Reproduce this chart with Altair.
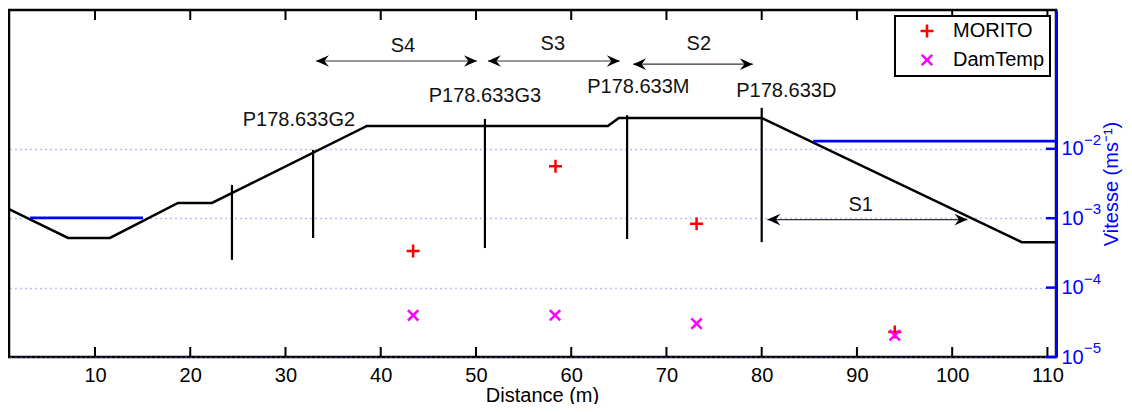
import altair as alt
import pandas as pd

# ---------------- data ----------------
# dam cross-section profile (distance m, elevation in arbitrary units 0-100)
prof_x = [0.97, 7.17, 11.57, 18.71, 22.28, 38.55, 63.85, 65.0, 80.0, 107.3, 110.9]
prof_z = [42.65, 34.3, 34.3, 44.4, 44.4, 66.6, 66.6, 68.9, 68.9, 33.1, 33.1]

# piezometer boreholes
pz_x = [24.38, 32.9, 50.94, 65.87, 80.0]
pz_top = [49.6, 59.7, 68.6, 69.7, 71.8]
pz_bot = [28.0, 34.3, 31.4, 34.0, 33.1]

# piezometer labels
pl_name = ["P178.633G2", "P178.633G3", "P178.633M", "P178.633D"]
pl_x = [31.41, 50.94, 67.05, 82.58]
pl_z = [68.3, 75.2, 77.8, 76.8]

# sections (double arrows)
sec_name = ["S1", "S2", "S3", "S4"]
sec_start = [80.6, 66.5, 51.25, 33.2]
sec_end = [101.6, 79.07, 65.1, 50.1]
sec_z = [39.6, 84.4, 85.3, 85.3]
sec_lx = [90.4, 73.4, 58.07, 42.33]
sec_lz = [43.7, 90.3, 90.3, 89.5]

# water levels
w_x1 = [3.18, 85.4]
w_x2 = [15.04, 110.9]
w_z = [40.1, 62.2]

# velocities
series_names = ["MORITO", "DamTemp"]
morito_x = [43.4, 58.35, 73.16, 93.97]
morito_v = [3.36e-4, 5.62e-3, 8.3e-4, 2.3e-5]
damtemp_x = [43.4, 58.3, 73.16, 93.97]
damtemp_v = [3.99e-5, 4.0e-5, 3.03e-5, 2.06e-5]

# ticks
x_ticks = [10, 20, 30, 40, 50, 60, 70, 80, 90, 100, 110]
y_ticks = [1e-5, 1e-4, 1e-3, 1e-2]
y_exp = ["\u22125", "\u22124", "\u22123", "\u22122"]

# ---------------- chart ----------------
W, H = 1047, 347
FONT = "Liberation Sans"
BLUE = "#0000ff"

xscale = alt.Scale(domain=[0.97, 110.9], nice=False, zero=False)
xaxis = alt.Axis(values=x_ticks, title="Distance (m)", labelFontSize=20, titleFontSize=20,
                 titleFontWeight="normal", ticks=False, domain=False, grid=False,
                 labelPadding=8, titlePadding=0, labelColor="black", titleColor="black",
                 labelFont=FONT, titleFont=FONT, titleX=533)


def X(f):
    return alt.X(f"{f}:Q", scale=xscale, axis=xaxis)


zscale = alt.Scale(domain=[0, 100], nice=False, zero=False)


def Z(f):
    return alt.Y(f"{f}:Q", scale=zscale, axis=None)


logscale = alt.Scale(type="log", domain=[1e-5, 1], nice=False)
yaxis = alt.Axis(orient="right", values=y_ticks, labelExpr="'10'", labelColor=BLUE,
                 labelFontSize=20, labelFont=FONT, ticks=False, domainColor=BLUE, domainWidth=3,
                 grid=True, gridColor="#7878ff", gridDash=[1, 4], gridWidth=1.3,
                 title="Vitesse (ms\u207b\u00b9)", titleColor=BLUE, titleFontSize=20,
                 titleFont=FONT, titleFontWeight="normal", titleAngle=270,
                 labelPadding=5, titlePadding=38)


def V(f):
    return alt.Y(f"{f}:Q", scale=logscale, axis=yaxis)


df_prof = pd.DataFrame({"x": prof_x, "z": prof_z, "i": list(range(len(prof_x)))})
df_pz = pd.DataFrame({"x": pz_x, "top": pz_top, "bot": pz_bot})
df_pl = pd.DataFrame({"name": pl_name, "x": pl_x, "z": pl_z})
df_sec = pd.DataFrame({"name": sec_name, "xs": sec_start, "xe": sec_end, "z": sec_z,
                       "lx": sec_lx, "lz": sec_lz})
df_w = pd.DataFrame({"x1": w_x1, "x2": w_x2, "z": w_z})
df_xt = pd.DataFrame({"x": x_ticks})

LEFT_HEAD = "M0,0L1,-0.45L0.65,0L1,0.45Z"
RIGHT_HEAD = "M0,0L-1,-0.45L-0.65,0L-1,0.45Z"

profile = alt.Chart(df_prof).mark_line(color="black", strokeWidth=2.5).encode(
    x=X("x"), y=Z("z"), order="i:Q")
water = alt.Chart(df_w).mark_rule(color=BLUE, strokeWidth=2.8).encode(
    x=X("x1"), x2="x2", y=Z("z"))
pz = alt.Chart(df_pz).mark_rule(color="black", strokeWidth=2.2).encode(
    x=X("x"), y=Z("bot"), y2="top")
pl = alt.Chart(df_pl).mark_text(font=FONT, fontSize=20, color="#111111", baseline="middle").encode(
    x=X("x"), y=Z("z"), text="name:N")
shaft = alt.Chart(df_sec).mark_rule(color="#333333", strokeWidth=1.2).encode(
    x=X("xs"), x2="xe", y=Z("z"))
lhead = alt.Chart(df_sec).mark_point(shape=LEFT_HEAD, filled=True, size=676, color="black",
                                     opacity=1).encode(x=X("xs"), y=Z("z"))
rhead = alt.Chart(df_sec).mark_point(shape=RIGHT_HEAD, filled=True, size=676, color="black",
                                     opacity=1).encode(x=X("xe"), y=Z("z"))
slab = alt.Chart(df_sec).mark_text(font=FONT, fontSize=20, color="#111111", baseline="middle").encode(
    x=X("lx"), y=Z("lz"), text="name:N")
top_ticks = alt.Chart(df_xt).mark_rule(color="black", strokeWidth=2).encode(
    x=X("x"), y=alt.value(0), y2=alt.value(10))
bot_ticks = alt.Chart(df_xt).mark_rule(color="black", strokeWidth=2).encode(
    x=X("x"), y=alt.value(H - 10), y2=alt.value(H))

prof_group = alt.layer(profile, water, pz, pl, shaft, lhead, rhead, slab, top_ticks, bot_ticks)

# velocity group
rows = []
for s, xs, vs in [("MORITO", morito_x, morito_v), ("DamTemp", damtemp_x, damtemp_v)]:
    for a, b in zip(xs, vs):
        rows.append({"series": s, "x": a, "v": b})
df_v = pd.DataFrame(rows)
df_yt = pd.DataFrame({"v": y_ticks, "exp": y_exp})

PLUS = "M-1,0L1,0M0,-1L0,1"
CROSS = "M-0.8,-0.8L0.8,0.8M-0.8,0.8L0.8,-0.8"

leg = alt.Legend(title=None, orient="top-right", offset=6, padding=5, labelFontSize=20,
                 labelFont=FONT, symbolStrokeWidth=2.5, symbolSize=169, symbolOffset=17,
                 labelOffset=16, rowPadding=6, strokeColor="black", fillColor="white")

pts = alt.Chart(df_v).mark_point(filled=False, strokeWidth=2.5, size=169, opacity=1).encode(
    x=X("x"), y=V("v"),
    color=alt.Color("series:N", scale=alt.Scale(domain=series_names, range=["#ff0000", "#ff00ff"]),
                    legend=leg),
    shape=alt.Shape("series:N", scale=alt.Scale(domain=series_names, range=[PLUS, CROSS]),
                    legend=leg),
)
rticks = alt.Chart(df_yt).mark_rule(color=BLUE, strokeWidth=2.5).encode(
    y=V("v"), x=alt.value(W - 10), x2=alt.value(W))
rexp = alt.Chart(df_yt).mark_text(font=FONT, fontSize=15, color=BLUE, align="left",
                                  baseline="middle", dy=-9).encode(
    y=V("v"), x=alt.value(W + 28), text="exp:N")

vel_group = alt.layer(pts, rticks, rexp)

chart = alt.layer(prof_group, vel_group).resolve_scale(y="independent").properties(
    width=W, height=H,
    autosize=alt.AutoSizeParams(type="none"),
    padding={"left": 1, "top": 2, "right": 68, "bottom": 47},
).configure_view(stroke="black", strokeWidth=2.5).configure_legend(strokeWidth=2)

chart.save("out.html", embed_options={"renderer": "svg", "actions": False})
